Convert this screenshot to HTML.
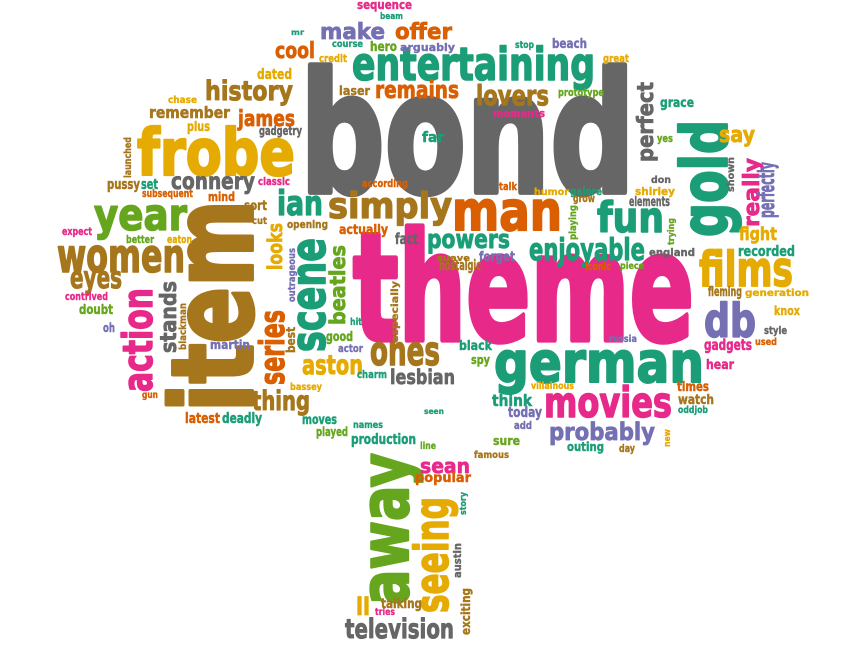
<!DOCTYPE html>
<html><head><meta charset="utf-8"><title>Bond word cloud</title>
<style>
html,body{margin:0;padding:0;background:#fff;}
svg{display:block;}
text{font-family:"DejaVu Sans","Liberation Sans",sans-serif;font-weight:bold;stroke-linejoin:round;}
</style></head>
<body>
<svg id="cloud" width="864" height="648" viewBox="0 0 864 648" xmlns="http://www.w3.org/2000/svg"></svg>
<script>
const palette = {t:"#1b9e77",o:"#d95f02",p:"#7570b3",k:"#e7298a",g:"#66a61e",y:"#e6ab02",b:"#a6761d",d:"#666666"};
// word, font size (weight)
const words = ["bond","theme","item","frobe","gold","man","german","away","seeing","entertaining","movies","films","db","women","action","year","simply","fun","scene","ones","enjoyable","television","probably","series","lovers","history","remains","make","offer","cool","ian","powers","perfect","really","say","aston","thing","eyes","james","remember","connery","looks","stands","sean","lesbian","beatles","fight","recorded","think","gadgets","production","deadly","latest","talking","ll","far","sequence","beam","mr","course","hero","arguably","credit","dated","laser","chase","plus","gadgetry","launched","pussy","set","subsequent","classic","according","mind","sort","cut","opening","actually","expect","better","eaton","fact","outrageous","contrived","doubt","blackman","best","especially","hit","good","actor","martin","charm","bassey","gun","moves","names","played","line","seen","tries","popular","story","austin","exciting","famous","sure","add","today","outing","day","new","black","spy","villainous","russia","knox","style","used","hear","times","watch","oddjob","stop","beach","great","prototype","moments","grace","yes","shown","perfectly","talk","humor","galore","grow","don","shirley","elements","playing","trying","suave","forget","nostalgic","iconic","piece","england","fleming","generation","oh"];
const sizes = [167,150,112,64,64,54,56,67,46,45,42,48,46,46,41,44,36,42,48,40,30,27,24,34,28,27,24,22,22,22,34,26,22,22,22,27,27,30,22,16,23,20,22,20,20,21,18,14,16,15,14,14,14,13,24,14,12,9,8,10,13,11,11,14,12,10,13,12,10,14,14,11,11,11,12,13,10,11,13,11,11,11,15,10,11,13,10,12,10,10,13,11,12,11,10,10,13,10,12,10,8,10,13,9,11,12,10,12,11,14,12,11,9,13,12,10,10,12,11,10,13,13,13,10,10,13,11,11,11,13,11,10,22,11,10,11,11,10,11,13,10,9,9,13,14,11,10,11,13,10,12,11];
const colorKeys = ["d","k","b","y","t","o","t","g","y","t","k","y","p","b","k","g","b","t","t","b","t","d","p","o","b","b","o","p","o","o","t","t","d","k","y","y","b","b","o","b","d","y","d","k","d","g","y","t","t","k","t","t","o","b","y","t","k","t","t","t","g","p","y","y","b","y","y","d","b","b","t","o","k","o","o","b","b","b","o","k","g","y","d","p","k","g","b","b","b","t","g","p","p","t","y","o","t","t","g","g","t","k","o","t","d","b","b","g","p","p","t","b","y","t","g","y","p","y","d","o","k","o","b","t","t","p","y","g","k","t","g","d","p","o","y","t","b","d","y","d","g","g","b","p","b","o","g","d","b","y","p"];
// layout: baseline x, baseline y, text length, rotation
const layout = [
[300,192,335,0],[353,340,341,0],[252,412,212,-90],[137,175,158,0],[727,237,117,-90],[452,230,110,0],[494,382,210,0],[408,605,152,-90],[448,613,116,-90],[352,80,243,0],[544,417,128,0],[699,286,94,0],[704,337,52,0],[57,272,128,0],[152,392,104,-90],[94,230,93,0],[328,218,124,0],[597,232,67,0],[325,352,114,-90],[370,365,70,0],[529,260,116,0],[345,638,109,0],[549,440,106,0],[284,385,75,-90],[476,105,73,0],[205,100,88,0],[375,98,84,0],[320,39,65,0],[395,39,57,0],[275,58,40,0],[277,215,46,0],[427,248,83,0],[653,162,80,-90],[759,227,69,-90],[719,142,36,0],[302,374,61,0],[252,410,58,0],[70,288,52,0],[238,126,57,0],[149,118,81,0],[171,189,84,0],[282,270,47,-90],[176,353,72,-90],[420,473,50,0],[390,384,65,0],[345,325,80,-90],[739,240,38,0],[738,256,57,0],[492,406,40,0],[704,350,48,0],[351,444,65,0],[222,423,40,0],[185,423,35,0],[381,608,41,0],[356,615,14,0],[422,142,22,0],
[357,9,55,0],[380,19,23,0],[291,35,13,0],[332,47,31,0],[370,51,27,0],[400,51,55,0],[319,62,28,0],[257,79,35,0],[339,95,31,0],[168,103,29,0],[187,131,23,0],[259,135,43,0],[131,178,41,-90],[107,189,33,0],[141,189,17,0],[142,197,51,0],[258,185,32,0],[362,187,46,0],[208,201,27,0],[244,210,23,0],[252,224,15,0],[287,228,41,0],[339,234,49,0],[62,235,30,0],[126,243,28,0],[167,243,25,0],[395,244,23,0],[295,302,54,-90],[65,300,43,0],[79,314,34,0],[186,350,47,-90],[295,353,26,-90],[398,343,62,-90],[350,325,12,0],[326,341,27,0],[338,352,25,0],[210,349,40,0],[357,378,30,0],[290,390,32,0],[142,398,16,0],[302,424,35,0],[353,428,30,0],[316,436,32,0],[420,449,16,0],[424,414,20,0],[375,615,20,0],[415,482,56,0],[466,515,23,-90],[461,578,35,-90],[470,635,47,-90],[474,458,35,0],[493,445,27,0],[514,429,18,0],[508,417,34,0],[567,451,37,0],[619,452,16,0],[670,447,18,-90],[459,350,33,0],[471,364,19,0],[531,389,43,0],[609,342,28,0],[774,315,26,0],[764,334,23,0],[755,345,22,0],[706,369,28,0],[677,391,32,0],[678,404,36,0],[678,413,30,0],[515,48,19,0],[552,48,35,0],[603,62,26,0],[558,96,46,0],[493,117,52,0],[660,107,34,0],[657,142,16,0],[734,192,35,-90],[774,218,56,-90],[499,190,18,0],[534,195,35,0],[570,195,32,0],[573,202,22,0],[651,183,20,0],[635,195,40,0],[629,206,41,0],[576,240,35,-90],[674,245,27,-90],[437,261,33,0],[479,261,36,0],[439,270,42,0],[585,270,26,0],[620,269,24,0],[649,256,46,0],[708,296,34,0],[745,296,64,0],[103,332,12,0]
];
const svg = document.getElementById('cloud');
const NS = "http://www.w3.org/2000/svg";
for (let i = 0; i < words.length; i++) {
  const L = layout[i];
  if (!L) continue;
  const col = palette[colorKeys[i]] || '#666';
  const t = document.createElementNS(NS, 'text');
  
  
  t.setAttribute('x', L[0]);
  t.setAttribute('y', L[1]);
  t.setAttribute('font-size', sizes[i]);
  t.setAttribute('fill', col);
  t.setAttribute('stroke', col);
  t.setAttribute('stroke-width', (sizes[i] * 0.035).toFixed(2));
  t.setAttribute('textLength', L[2]);
  t.setAttribute('lengthAdjust', 'spacingAndGlyphs');
  if (L[3]) t.setAttribute('transform', 'rotate(' + L[3] + ' ' + L[0] + ' ' + L[1] + ')');
  t.textContent = words[i];
  svg.appendChild(t);
}
</script>
</body></html>
